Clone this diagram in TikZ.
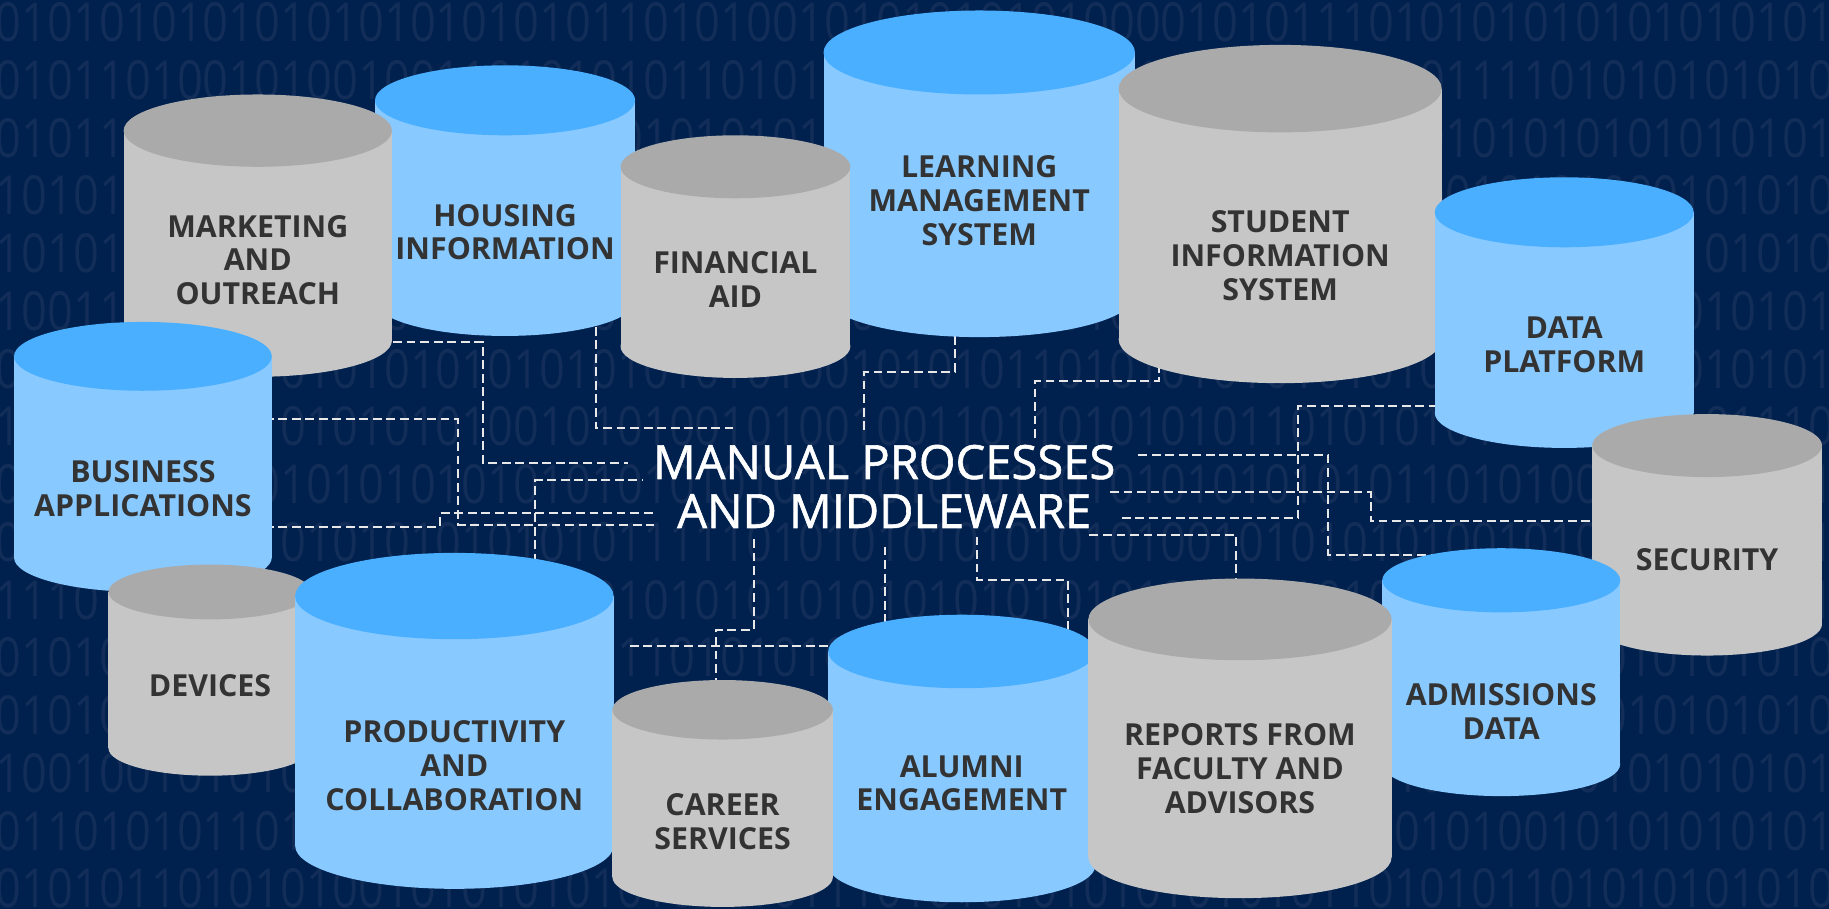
\documentclass[tikz,border=0pt]{standalone}
\usepackage{fontspec}
\setmainfont{Open Sans}
\newfontfamily\bitfont{Open Sans}[FakeStretch=0.84]
\newfontfamily\titlefont{Open Sans}[FakeBold=1.2]

\definecolor{navy}{RGB}{0,32,78}
\definecolor{bitcol}{RGB}{17,45,88}
\definecolor{sidegray}{RGB}{198,198,198}
\definecolor{topgray}{RGB}{170,170,170}
\definecolor{sideblue}{RGB}{136,201,255}
\definecolor{topblue}{RGB}{74,175,255}
\definecolor{labelcol}{RGB}{51,51,51}
\definecolor{linkcol}{RGB}{232,232,232}

\pgfdeclarelayer{bits}
\pgfdeclarelayer{links}
\pgfsetlayers{bits,links,main}

\tikzset{
  cyltext/.style={text=labelcol, font=\bfseries\fontsize{13}{14.5}\selectfont, align=center, inner sep=0pt},
  bitrow/.style={text=bitcol, font=\bitfont\fontsize{23.1}{23.1}\selectfont, anchor=west, inner sep=0pt},
  link/.style={draw=linkcol, line width=0.85pt, dash pattern=on 3.8pt off 2pt},
  headline/.style={text=white, font=\titlefont\fontsize{20.2}{21}\selectfont, align=center, inner sep=0pt}
}

% name, cx, top cy, bottom cy, rx, ry, gray/blue, label y, label
\newcommand\datacyl[9]{%
  \fill[side#7] (#2-#5,#3) rectangle (#2+#5,#4);
  \fill[side#7] (#2,#4) ellipse [x radius=#5, y radius=#6];
  \fill[top#7] (#2,#3) ellipse [x radius=#5, y radius=#6];
  \node[cyltext] (#1) at (#2,#8) {#9};
}

\begin{document}
\begin{tikzpicture}[x=0.5pt,y=-0.5pt]
\useasboundingbox (0,0) rectangle (1568,779);

%Background with binary rows
\begin{pgfonlayer}{bits}
\fill[navy] (0,0) rectangle (1568,779);
\foreach \bits [count=\r] in {
0101010101010101010101011010100101010101010000101011101010101010101010101010,
0101101001010010011010101011010101101001010110101010101011110101010101011110,
0101101011011010101010110101010101010101001010101010101010101010101010101011,
1010101010101010101010101010101010101011101010101010010001010100010101010101,
1010101010101010101010101010101010101010101010101010101010101001010101010101,
1001101010101010101010101010101010101010101010101010101010101010101010101010,
0101111101101010101010101010101001010101101010101010101010101010101010101101,
1010101010101010101001010100101001001101101010101101010101011101010111010101,
0101010101010101010101010101010101010101101010101010101101010010101010101010,
0101101010101010101010101111101010101010101010010101010100101010101010101011,
1110101010101010101010101010101010101010101010101010101010101010101010101010,
0101010101010101010101011101010101010101010100101010110101010101010101010101,
0101010101010101010101010101010101010101010101010101010101010101010101011110,
1001001010101010101010101010101010101010101010101010101010101010101010101010,
0110101011010101010101010101010101010010101010101010100101001010101010101010,
0101011010101001010101010101010111010101010101010101101010110101010101010101}
  \node[bitrow] (row\r) at (-4,{19.3+49.5*(\r-1)}) {\bits};
\end{pgfonlayer}

%Cylinders, back to front
\datacyl{hous}{433}{86}{258}{111.5}{30}{blue}{199}{HOUSING\\INFORMATION}
\datacyl{mkt}{221}{112}{292}{115}{31}{gray}{223}{MARKETING\\AND\\OUTREACH}
\datacyl{bus}{122.5}{305.5}{478}{110.5}{29.5}{blue}{419}{BUSINESS\\APPLICATIONS}
\datacyl{dev}{180}{507.5}{641.5}{87}{23.5}{gray}{588}{DEVICES}
\datacyl{prod}{389.5}{511}{725}{136.5}{37}{blue}{656.5}{PRODUCTIVITY\\AND\\COLLABORATION}
\datacyl{lms}{839.5}{45}{253}{133.5}{36}{blue}{172}{LEARNING\\MANAGEMENT\\SYSTEM}
\datacyl{fin}{630.5}{143}{297}{98.5}{27}{gray}{239.5}{FINANCIAL\\AID}
\datacyl{sis}{1097.5}{76}{291}{138.5}{37.5}{gray}{219}{STUDENT\\INFORMATION\\SYSTEM}
\datacyl{dplat}{1341}{182}{354}{111}{30}{blue}{295.5}{DATA\\PLATFORM}
\datacyl{sec}{1463.5}{382}{535}{98.5}{27}{gray}{480}{SECURITY}
\datacyl{adm}{1287}{497.5}{655}{102}{27.5}{blue}{610}{ADMISSIONS\\DATA}
\datacyl{alum}{824.5}{558.5}{742}{114.5}{31.5}{blue}{671.5}{ALUMNI\\ENGAGEMENT}
\datacyl{career}{619.5}{608.5}{752}{94.5}{25.5}{gray}{704.5}{CAREER\\SERVICES}
\datacyl{rep}{1063}{531}{735}{130}{35}{gray}{659}{REPORTS FROM\\FACULTY AND\\ADVISORS}

% Text Node
\node[headline] (title) at (758,417) {MANUAL PROCESSES\\AND MIDDLEWARE};

%Dashed wiring
\begin{pgfonlayer}{links}
\coordinate (a1) at (414,293); \coordinate (a2) at (414,397); \coordinate (a3) at (538,397);
\coordinate (b1) at (511,367); \coordinate (b2) at (628,367);
\coordinate (c1) at (459,411.5); \coordinate (c2) at (551,411.5);
\coordinate (d1) at (377,451.5); \coordinate (d2) at (377,440); \coordinate (d3) at (560,440);
\coordinate (e1) at (393,359.5); \coordinate (e2) at (393,450); \coordinate (e3) at (561,450);
\coordinate (f1) at (614,540); \coordinate (f2) at (646,540); \coordinate (f3) at (646,461);
\coordinate (g1) at (540,554);
\coordinate (h1) at (758.5,468.6);
\coordinate (i1) at (837.5,460); \coordinate (i2) at (837.5,497); \coordinate (i3) at (915.6,497);
\coordinate (j1) at (934,458.6); \coordinate (j2) at (1059.6,458.6);
\coordinate (k1) at (961.6,444.3); \coordinate (k2) at (1112.5,444.3); \coordinate (k3) at (1112.5,348);
\coordinate (l1) at (951.6,422); \coordinate (l2) at (1175,422); \coordinate (l3) at (1175,447);
\coordinate (m1) at (975.8,390); \coordinate (m2) at (1138.5,390); \coordinate (m3) at (1138.5,475.8);
\coordinate (n1) at (818.7,318.6); \coordinate (n2) at (741,318.6); \coordinate (n3) at (741,368.6);
\coordinate (o1) at (993.6,326.6); \coordinate (o2) at (887.3,326.6); \coordinate (o3) at (887.3,377);

\draw[link] (mkt |- a1) -- (a1) -- (a2) -- (a3);
\draw[link] (b1 |- hous) -- (b1) -- (b2);
\draw[link] (c1 |- prod) -- (c1) -- (c2);
\draw[link] (bus |- d1) -- (d1) -- (d2) -- (d3);
\draw[link] (bus |- e1) -- (e1) -- (e2) -- (e3);
\draw[link] (f1 |- career) -- (f1) -- (f2) -- (f3);
\draw[link] (g1) -- (g1 -| alum);
\draw[link] (h1) -- (h1 |- alum);
\draw[link] (i1) -- (i2) -- (i3) -- (i3 |- alum);
\draw[link] (j1) -- (j2) -- (j2 |- rep);
\draw[link] (k1) -- (k2) -- (k3) -- (k3 -| dplat);
\draw[link] (l1) -- (l2) -- (l3) -- (l3 -| sec);
\draw[link] (m1) -- (m2) -- (m3) -- (m3 -| adm);
\draw[link] (n1 |- lms) -- (n1) -- (n2) -- (n3);
\draw[link] (o1 |- sis) -- (o1) -- (o2) -- (o3);
\end{pgfonlayer}

\end{tikzpicture}
\end{document}
